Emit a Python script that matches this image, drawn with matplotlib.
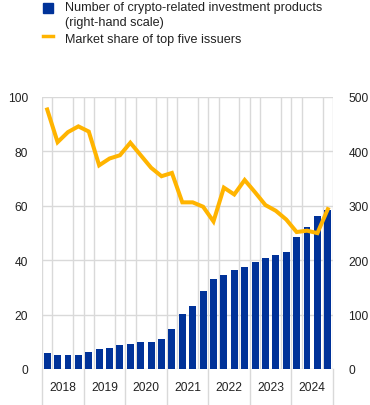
import matplotlib
matplotlib.use("Agg")
import matplotlib.pyplot as plt
import matplotlib.transforms as mtransforms
from matplotlib.patches import Rectangle
from matplotlib.lines import Line2D
import numpy as np

plt.rcParams['font.family'] = ['Liberation Sans', 'DejaVu Sans']

years = ['2018', '2019', '2020', '2021', '2022', '2023', '2024']
quarters_per_year = 4

products = [30, 26, 26, 26, 31, 37, 39, 44, 46, 50, 50, 55, 74, 101,
            116, 144, 166, 173, 181, 188, 196, 203, 209, 214, 242, 261, 281, 292]
market_share = [95.3, 83.3, 87.0, 89.1, 87.2, 74.8, 77.3, 78.5, 83.1, 78.5, 73.9, 70.8, 72.0, 61.2,
                61.2, 59.6, 54.2, 66.6, 64.1, 69.4, 64.9, 60.2, 58.1, 54.9, 50.3, 50.8, 49.9, 58.7]

label_bars = ['Number of crypto-related investment products', '(right-hand scale)']
label_line = 'Market share of top five issuers'

BLUE = '#003299'
ORANGE = '#FFB400'
GRID = '#d9d9d9'
TXT = '#222222'
FS = 8.64
LFS = 9.1

fig = plt.figure(figsize=(3.70, 4.06), dpi=100)
ax = fig.add_axes([42/370, 1-370/406, (333-42)/370, (370-97.7)/406])
n = len(products)
x = np.arange(n)

# bars on primary axis (right-hand scale)
ax.bar(x, products, width=0.67, color=BLUE, zorder=2)
ax.set_ylim(0, 500)
ax.set_xlim(-0.5, n - 0.5)
ax.set_yticks([0, 100, 200, 300, 400, 500])
for s in ax.spines.values():
    s.set_visible(False)

# vertical grid at category boundaries
ax.set_xticks(np.arange(-0.5, n, 1.0), minor=True)
ax.grid(which='minor', axis='x', color=GRID, linewidth=1.0, zorder=0)
ax.tick_params(axis='x', which='minor', length=0)
# year labels
centers = [i * quarters_per_year + (quarters_per_year - 1) / 2 for i in range(len(years))]
ax.set_xticks(centers)
ax.set_xticklabels(years)
ax.tick_params(axis='x', which='major', length=0, pad=9, labelsize=FS, labelcolor=TXT)
ax.set_axisbelow(True)
for v in [0, 100, 200, 300, 400, 500]:
    ax.axhline(v, color=GRID, linewidth=1.0, zorder=0)

# year separators extending below axis
trans = mtransforms.blended_transform_factory(ax.transData, ax.transAxes)
for b in np.arange(-0.5, n, quarters_per_year):
    ax.add_line(Line2D([b, b], [-0.135, 0], transform=trans, color=GRID, linewidth=1.0, clip_on=False))

# line on twin axis (left scale)
ax2 = ax.twinx()
ax2.set_ylim(0, 100)
ax2.set_yticks([0, 20, 40, 60, 80, 100])
ax2.set_xlim(-0.5, n - 0.5)
for s in ax2.spines.values():
    s.set_visible(False)
ax2.plot(x, market_share, color=ORANGE, linewidth=2.9, solid_joinstyle='miter', zorder=3)

# axis sides: primary (bars) on right, twin (line) on left
ax.yaxis.tick_right()
ax.yaxis.set_label_position('right')
ax.tick_params(axis='y', which='both', left=False, labelleft=False, right=False, labelright=True,
               length=0, pad=11, labelsize=FS, labelcolor=TXT)
ax2.yaxis.tick_left()
ax2.yaxis.set_label_position('left')
ax2.tick_params(axis='y', which='both', right=False, labelright=False, left=False, labelleft=True,
                length=0, pad=10, labelsize=FS, labelcolor=TXT)

# legend (manual)
fig.patches.append(Rectangle((43/370, 1-14/406), 10/370, 10/406, transform=fig.transFigure,
                             color=BLUE, figure=fig))
fig.lines.append(Line2D([43/370, 53/370], [1-37/406, 1-37/406], transform=fig.transFigure,
                        color=ORANGE, linewidth=2.5, figure=fig))
fig.text(65/370, 1-8.5/406, label_bars[0], ha='left', va='center', fontsize=LFS, color=TXT)
fig.text(65/370, 1-23/406, label_bars[1], ha='left', va='center', fontsize=LFS, color=TXT)
fig.text(65/370, 1-39.5/406, label_line, ha='left', va='center', fontsize=LFS, color=TXT)

fig.savefig('out.png', dpi=100)
